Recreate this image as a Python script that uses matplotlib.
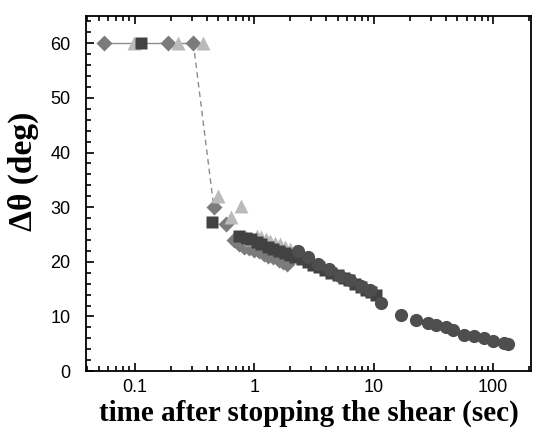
import matplotlib
matplotlib.use("Agg")
import matplotlib.pyplot as plt
from matplotlib.ticker import LogLocator, MultipleLocator, FuncFormatter, NullFormatter

# diamonds (medium gray)
dia_t = [0.0556, 0.19, 0.31, 0.46, 0.58, 0.68, 0.75, 0.82, 0.9, 1.0, 1.1, 1.2, 1.3, 1.45, 1.6, 1.75, 1.9]
dia_y = [60, 60, 60, 30.0, 26.9, 24.0, 23.3, 22.8, 22.5, 22.2, 21.9, 21.5, 21.1, 20.8, 20.4, 20.0, 19.6]

# triangles (light gray)
tri_t = [0.099, 0.231, 0.374, 0.50, 0.64, 0.78, 0.86, 0.95, 1.05, 1.15, 1.25, 1.35, 1.5, 1.65, 1.8, 2.0, 2.2]
tri_y = [60, 60, 60, 32.0, 28.2, 30.2, 24.5, 24.2, 24.8, 24.6, 24.2, 23.9, 23.5, 23.2, 22.8, 22.4, 22.0]

# squares (dark)
sq_t = [0.113, 0.44, 0.75, 0.85, 0.95, 1.05, 1.15, 1.3, 1.45, 1.6, 1.8, 2.0, 2.2, 2.5, 2.8,
        3.1, 3.5, 3.9, 4.4, 5.0, 5.6, 6.2, 7.0, 7.8, 8.6, 9.5, 10.5]
sq_y = [60, 27.3, 24.7, 24.4, 24.1, 23.7, 23.3, 22.8, 22.4, 22.0, 21.6, 21.2, 20.9, 20.5, 20.0,
        19.5, 19.0, 18.5, 18.0, 17.6, 17.1, 16.6, 16.0, 15.4, 14.9, 14.4, 14.0]

# circles (dark)
circ_t = [2.33, 2.8, 3.4, 4.2, 5.2, 6.4, 7.8, 9.3, 11.6, 17.0, 22.7, 28.5, 33.3, 40.4, 46.3, 57, 69, 84, 100, 123, 133]
circ_y = [21.9, 20.8, 19.6, 18.6, 17.4, 16.6, 15.6, 14.8, 12.5, 10.3, 9.4, 8.8, 8.5, 8.1, 7.6, 6.6, 6.4, 6.1, 5.5, 5.2, 5.0]

fig = plt.figure(figsize=(5.36, 4.32), dpi=100)
ax = fig.add_axes([0.160, 0.141, 0.831, 0.822])

# guide line through the first diamonds: solid at plateau, dashed on the drop
ax.plot(dia_t[:3], dia_y[:3], color="#8c8c8c", lw=1.0, zorder=1)
ax.plot(dia_t[2:4], dia_y[2:4], color="#8c8c8c", lw=1.0, ls=(0, (4, 3)), zorder=1)

ms = 9.5
ax.plot(dia_t, dia_y, "D", color="#7b7b7b", ms=ms * 0.85, mec="none", ls="none", zorder=2)
ax.plot(tri_t, tri_y, "^", color="#bababa", ms=ms * 1.05, mec="none", ls="none", zorder=3)
ax.plot(sq_t, sq_y, "s", color="#424242", ms=ms * 0.85, mec="none", ls="none", zorder=4)
ax.plot(circ_t, circ_y, "o", color="#4e4e4e", ms=ms, mec="none", ls="none", zorder=5)

ax.set_xscale("log")
ax.set_xlim(0.039, 208)
ax.set_ylim(0, 65)

ax.xaxis.set_major_locator(LogLocator(base=10, numticks=10))
ax.xaxis.set_minor_locator(LogLocator(base=10, subs=range(2, 10), numticks=20))
ax.xaxis.set_major_formatter(FuncFormatter(lambda v, p: "%g" % v))
ax.xaxis.set_minor_formatter(NullFormatter())
ax.yaxis.set_major_locator(MultipleLocator(10))
ax.yaxis.set_minor_locator(MultipleLocator(2))

ax.tick_params(which="both", direction="in", top=True, right=False, width=1.2,
               labelsize=13, labelfontfamily="Liberation Sans", colors="black")
ax.tick_params(axis="y", pad=11)
ax.tick_params(axis="x", pad=6)
ax.tick_params(which="major", length=6)
ax.tick_params(which="minor", length=3.5)
for s in ax.spines.values():
    s.set_linewidth(1.3)

ax.set_xlabel("time after stopping the shear (sec)", family="Liberation Serif",
              fontweight="bold", fontsize=21)
ax.set_ylabel("\u0394\u03b8 (deg)", family="Liberation Serif", fontweight="bold", fontsize=24)
ax.xaxis.set_label_coords(0.50, -0.08)
ax.yaxis.set_label_coords(-0.105, 0.563)

fig.savefig("out.png", dpi=100)
